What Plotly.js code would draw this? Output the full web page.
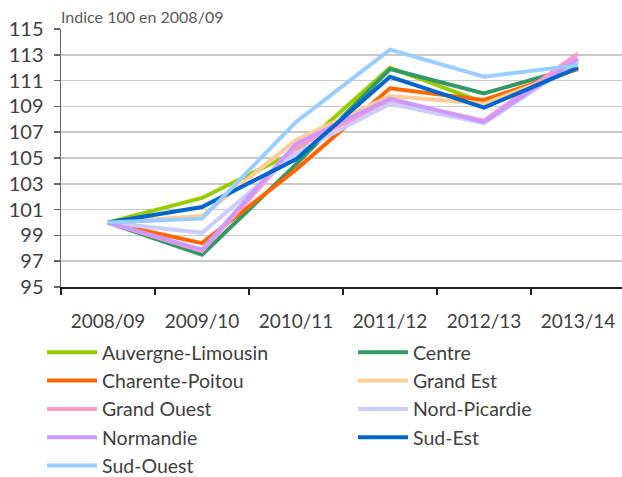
<!DOCTYPE html>
<html><head><meta charset="utf-8">
<script src="https://cdn.plot.ly/plotly-3.0.1.min.js"></script>
<style>html,body{margin:0;padding:0;overflow:hidden;background:#fff}#chart{width:625px;height:477px}</style>
</head><body><div id="chart"></div>
<script>
const categories = ["2008/09","2009/10","2010/11","2011/12","2012/13","2013/14"];
const seriesNames = ["Auvergne-Limousin","Centre","Charente-Poitou","Grand Est","Grand Ouest","Nord-Picardie","Normandie","Sud-Est","Sud-Ouest"];
const auvergneLimousin = [100, 101.9, 105.5, 112.0, 109.3, 112.1];
const centre          = [100, 97.5, 104.5, 111.9, 110.0, 112.1];
const charentePoitou  = [100, 98.4, 104.1, 110.4, 109.5, 111.9];
const grandEst        = [100, 100.5, 106.4, 109.8, 109.2, 112.0];
const grandOuest      = [100, 97.8, 105.8, 109.5, 107.9, 113.1];
const nordPicardie    = [100, 99.2, 105.4, 109.2, 107.7, 112.5];
const normandie       = [100, 97.9, 106.1, 109.6, 107.8, 112.7];
const sudEst          = [100, 101.2, 104.9, 111.3, 108.9, 112.0];
const sudOuest        = [100, 100.3, 107.8, 113.4, 111.3, 112.2];
const seriesValues = [auvergneLimousin, centre, charentePoitou, grandEst, grandOuest, nordPicardie, normandie, sudEst, sudOuest];
const colors = ["#99CC00","#339966","#FF6600","#FFCC99","#FF99CC","#CCCCFF","#CC99FF","#0066CC","#99CCFF"];
const yTicks = [95,97,99,101,103,105,107,109,111,113,115];

const FONT = "Lato, 'Open Sans', sans-serif";
const traces = seriesNames.map((n,i)=>({
  type:"scatter", mode:"lines", name:n, x:categories, y:seriesValues[i],
  line:{color:colors[i], width:4},
  legend: (i % 2 === 0) ? "legend" : "legend2"
}));
const plotW = 564, plotH = 258, plotL = 61, plotB = 287;
const legendBase = {orientation:"v", xref:"paper", yref:"paper", xanchor:"left", yanchor:"top",
  itemwidth:50, font:{size:19.5, family:FONT, color:"#404040"}, tracegroupgap:0, traceorder:"normal", bgcolor:"rgba(0,0,0,0)"};
const layout = {
  width:625, height:477,
  margin:{l:61, r:0, t:29, b:190, autoexpand:false},
  paper_bgcolor:"#fff", plot_bgcolor:"#fff",
  showlegend:true,
  font:{family:FONT, color:"#404040"},
  xaxis:{type:"category", range:[-0.5,5.5], automargin:false, showgrid:false, showline:true, linecolor:"#222", linewidth:1.5,
    ticks:"outside", tickson:"boundaries", ticklen:6, tickcolor:"#222", tickwidth:1.5,
    tickfont:{size:19, family:FONT, color:"#404040"}, ticklabelstandoff:17, zeroline:false},
  yaxis:{range:[95,115], tickvals:yTicks, automargin:false, showgrid:true, gridcolor:"#c8c8c8", gridwidth:1.5,
    showline:true, linecolor:"#666", linewidth:1.5, ticks:"outside", ticklen:6, tickcolor:"#666", tickwidth:1.5,
    tickfont:{size:20, family:FONT, color:"#404040"}, ticklabelstandoff:6, zeroline:false},
  legend: Object.assign({}, legendBase, {x:(42-plotL)/plotW, y:(plotB-333)/plotH}),
  legend2: Object.assign({}, legendBase, {x:(353-plotL)/plotW, y:(plotB-333)/plotH}),
  annotations:[{text:"Indice 100 en 2008/09", xref:"paper", yref:"paper", x:0, y:1, xanchor:"left", yanchor:"bottom", yshift:1, xshift:-2,
    showarrow:false, font:{size:16, family:FONT, color:"#595959"}}]
};
Plotly.newPlot("chart", traces, layout, {displayModeBar:false, staticPlot:true});
</script></body></html>
